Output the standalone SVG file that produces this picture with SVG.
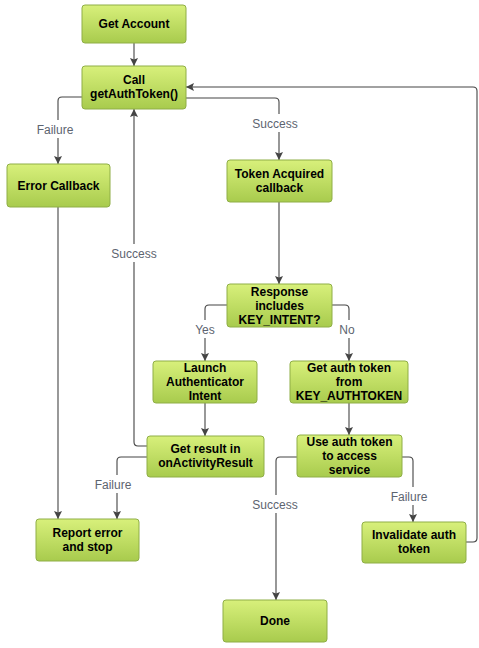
<svg xmlns="http://www.w3.org/2000/svg" width="479" height="648" viewBox="0 0 479 648">
<style>
.n rect{fill:url(#g);stroke:#8fae46;stroke-width:1}
.n text{font-family:"Liberation Sans",Arial,sans-serif;font-weight:bold;font-size:12px;fill:#000;text-anchor:middle}
.c path{fill:none;stroke:#444;stroke-width:1.1}
.c path.a{marker-end:url(#ah)}
.l rect{fill:#fff}
.l text{font-family:"Liberation Sans",Arial,sans-serif;font-size:12px;fill:#5d6470;text-anchor:middle}
</style>
<defs>
<linearGradient id="g" x1="0" y1="0" x2="0" y2="1">
<stop offset="0" stop-color="#d8f07b"/>
<stop offset="1" stop-color="#a8cb4d"/>
</linearGradient>
<marker id="ah" viewBox="0 0 10 10" refX="10" refY="5" markerWidth="9" markerHeight="8" markerUnits="userSpaceOnUse" orient="auto">
<path d="M0,0 L10,5 L0,10 L2,5 z" fill="#444"/>
</marker>
</defs>
<rect width="479" height="648" fill="#fff"/>
<g class="c" id="connectors">
<path class="a" d="M134,43 V66"/>
<path class="a" d="M82,97 H62 Q58,97 58,101 V164"/>
<path class="a" d="M186,98 H275 Q279,98 279,102 V160"/>
<path class="a" d="M279,202 V284"/>
<path class="a" d="M227,305 H209 Q205,305 205,309 V361"/>
<path class="a" d="M332,305 H345 Q349,305 349,309 V361"/>
<path class="a" d="M205,403 V436"/>
<path class="a" d="M349,403 V435"/>
<path class="a" d="M147,446 H138 Q134,446 134,442 V109"/>
<path class="a" d="M147,457 H121 Q117,457 117,461 V519"/>
<path class="a" d="M58,207 V519"/>
<path class="a" d="M297,457 H280 Q276,457 276,461 V600"/>
<path class="a" d="M402,457 H409 Q413,457 413,461 V522"/>
<path class="a" d="M466,542 H473 Q477,542 477,538 V91 Q477,87 473,87 H186"/>
</g>
<g class="l" id="labels">
<rect x="34" y="120" width="42" height="18"/><text x="55" y="133.5">Failure</text>
<rect x="251" y="114" width="48" height="18"/><text x="275" y="127.5">Success</text>
<rect x="110" y="244" width="48" height="18"/><text x="134" y="257.5">Success</text>
<rect x="193" y="320" width="24" height="18"/><text x="205" y="333.5">Yes</text>
<rect x="337" y="320" width="22" height="18"/><text x="347" y="333.5">No</text>
<rect x="92" y="475" width="42" height="18"/><text x="113" y="488.5">Failure</text>
<rect x="251" y="495" width="48" height="18"/><text x="275" y="508.5">Success</text>
<rect x="388" y="487" width="42" height="18"/><text x="409" y="500.5">Failure</text>
</g>
<g class="n" id="get-account"><rect x="82" y="5" width="104" height="38" rx="3"/><text x="134" y="28.3">Get Account</text></g>
<g class="n" id="call-getauthtoken"><rect x="82" y="66" width="104" height="43" rx="3"/><text x="134" y="84.3">Call</text><text x="134" y="98.3">getAuthToken()</text></g>
<g class="n" id="error-callback"><rect x="7" y="164" width="103" height="43" rx="3"/><text x="58.5" y="190">Error Callback</text></g>
<g class="n" id="token-acquired"><rect x="227" y="160" width="105" height="42" rx="3"/><text x="279.5" y="178">Token Acquired</text><text x="279.5" y="192">callback</text></g>
<g class="n" id="response"><rect x="227" y="284" width="105" height="43" rx="3"/><text x="279.5" y="296.3">Response</text><text x="279.5" y="310.3">includes</text><text x="279.5" y="324.3">KEY_INTENT?</text></g>
<g class="n" id="launch"><rect x="153" y="361" width="104" height="42" rx="3"/><text x="205" y="372">Launch</text><text x="205" y="386">Authenticator</text><text x="205" y="400">Intent</text></g>
<g class="n" id="get-auth-token"><rect x="290" y="361" width="118" height="42" rx="3"/><text x="349" y="372">Get auth token</text><text x="349" y="386">from</text><text x="349" y="400">KEY_AUTHTOKEN</text></g>
<g class="n" id="get-result"><rect x="147" y="436" width="117" height="41" rx="3"/><text x="205.5" y="453">Get result in</text><text x="205.5" y="467">onActivityResult</text></g>
<g class="n" id="use-auth-token"><rect x="297" y="435" width="105" height="42" rx="3"/><text x="349.5" y="446.3">Use auth token</text><text x="349.5" y="460.3">to access</text><text x="349.5" y="474.3">service</text></g>
<g class="n" id="report-error"><rect x="36" y="519" width="103" height="42" rx="3"/><text x="87.5" y="537.3">Report error</text><text x="87.5" y="551.3">and stop</text></g>
<g class="n" id="invalidate"><rect x="362" y="522" width="104" height="41" rx="3"/><text x="414" y="539.3">Invalidate auth</text><text x="414" y="553.3">token</text></g>
<g class="n" id="done"><rect x="223" y="600" width="104" height="42" rx="3"/><text x="275" y="625">Done</text></g>
</svg>
